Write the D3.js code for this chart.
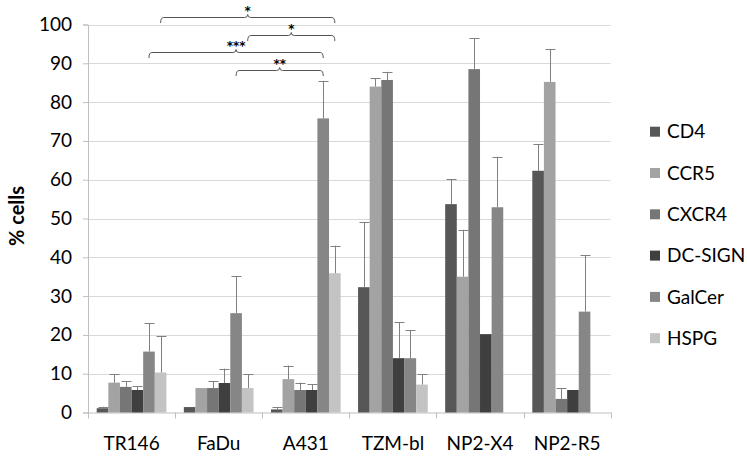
<!DOCTYPE html>
<html><head><meta charset="utf-8">
<script src="https://cdn.jsdelivr.net/npm/d3@7"></script>
<style>
html,body{margin:0;padding:0;background:#fff;}
svg{display:block;font-family:Lato,"Open Sans",sans-serif;}
</style></head>
<body><svg id="c" width="747" height="462"></svg>
<script>
const categories = ["TR146","FaDu","A431","TZM-bl","NP2-X4","NP2-R5"];
const seriesNames = ["CD4","CCR5","CXCR4","DC-SIGN","GalCer","HSPG"];
const seriesColors = ["#575757","#a3a3a3","#767676","#3f3f3f","#868686","#c3c3c3"];
// values (% cells) per category
const cd4    = [1.1, 1.4, 0.8, 32.3, 53.7, 62.3];
const ccr5   = [7.7, 6.3, 8.6, 84.0, 35.0, 85.2];
const cxcr4  = [6.6, 6.3, 5.8, 85.7, 88.5, 3.5];
const dcsign = [5.8, 7.6, 5.8, 14.0, 20.2, 5.8];
const galcer = [15.7, 25.6, 75.8, 14.0, 52.9, 26.0];
const hspg   = [10.3, 6.3, 35.9, 7.2, 0, 0];
// positive error bars (null = none drawn)
const cd4Err    = [0.4, null, 0.6, 16.7, 6.4, 6.9];
const ccr5Err   = [2.2, null, 3.5, 2.1, 12.1, 8.5];
const cxcr4Err  = [1.4, 1.7, 1.9, 2.1, 7.9, 2.7];
const dcsignErr = [0.95, 3.7, 1.5, 9.2, null, null];
const galcerErr = [7.3, 9.5, 9.7, 7.2, 13.0, 14.6];
const hspgErr   = [9.3, 3.5, 7.1, 2.6, null, null];
const yTicks = [0,10,20,30,40,50,60,70,80,90,100];
// significance comparisons: [category A, series, category B, series, label, bracket level (%)]
const comparisons = [
  ["TR146","HSPG","A431","HSPG","*",102],
  ["FaDu","HSPG","A431","HSPG","*",97.3],
  ["TR146","GalCer","A431","GalCer","***",92.8],
  ["FaDu","GalCer","A431","GalCer","**",88.3]
];

const values = [cd4, ccr5, cxcr4, dcsign, galcer, hspg];
const errors = [cd4Err, ccr5Err, cxcr4Err, dcsignErr, galcerErr, hspgErr];

const svg = d3.select("#c");
const pLeft = 88, pRight = 610.7, pTop = 24.5, pBottom = 412.5;

const x0 = d3.scaleBand().domain(categories).range([pLeft, pRight]).paddingInner(0.2).paddingOuter(0.1);
const x1 = d3.scaleBand().domain(seriesNames).range([0, x0.bandwidth()]);
const y = d3.scaleLinear().domain([0,100]).range([pBottom, pTop]);
const color = d3.scaleOrdinal().domain(seriesNames).range(seriesColors);

// gridlines
svg.append("g").selectAll("line").data(yTicks.filter(d=>d>0)).join("line")
  .attr("x1", pLeft).attr("x2", pRight)
  .attr("y1", d=>Math.round(y(d))+0.5).attr("y2", d=>Math.round(y(d))+0.5)
  .attr("stroke","#d9d9d9").attr("stroke-width",1);

// y axis
const yAxis = d3.axisLeft(y).tickValues(yTicks).tickSize(5).tickPadding(11);
const gy = svg.append("g").attr("transform",`translate(${pLeft},0)`).call(yAxis);
gy.select(".domain").attr("stroke","#bfbfbf");
gy.selectAll(".tick line").attr("stroke","#bfbfbf");
gy.selectAll(".tick text").attr("font-size",19).attr("fill","#000").attr("font-family","Lato");

// x axis
const xAxis = d3.axisBottom(x0).tickSize(0).tickPadding(24);
const gx = svg.append("g").attr("transform",`translate(0,${pBottom})`).call(xAxis);
gx.select(".domain").attr("stroke","#bfbfbf");
gx.selectAll(".tick text").attr("font-size",19).attr("fill","#000").attr("font-family","Lato");
// boundary ticks between categories
const bounds = categories.map(c => x0(c) - x0.step()*x0.paddingInner()/2).concat([pRight]);
bounds[0] = pLeft;
svg.append("g").selectAll("line").data(bounds).join("line")
  .attr("x1", d=>Math.round(d)+0.5).attr("x2", d=>Math.round(d)+0.5).attr("y1", pBottom).attr("y2", pBottom+6)
  .attr("stroke","#bfbfbf");

// bars
const groups = svg.append("g").selectAll("g").data(categories).join("g")
  .attr("transform", c => `translate(${x0(c)},0)`);
groups.selectAll("rect").data((c,ci) => seriesNames.map((s,si)=>({s, v: values[si][ci]})))
  .join("rect")
  .attr("x", d => x1(d.s)).attr("width", x1.bandwidth())
  .attr("y", d => y(d.v)).attr("height", d => y(0)-y(d.v))
  .attr("fill", d => color(d.s));

// error bars
const errData = [];
categories.forEach((c,ci)=> seriesNames.forEach((s,si)=>{
  const e = errors[si][ci];
  if (e != null) errData.push({c, s, v: values[si][ci], e});
}));
const eg = svg.append("g").attr("stroke","#808080").attr("stroke-width",1);
errData.forEach(d=>{
  const cx = Math.round(x0(d.c) + x1(d.s) + x1.bandwidth()/2) + 0.5;
  eg.append("line").attr("x1",cx).attr("x2",cx).attr("y1",y(d.v)).attr("y2",y(d.v+d.e));
  eg.append("line").attr("x1",cx-5).attr("x2",cx+5).attr("y1",Math.round(y(d.v+d.e))+0.5).attr("y2",Math.round(y(d.v+d.e))+0.5);
});

// significance brackets
const bg = svg.append("g");
comparisons.forEach(([ca,sa,cb,sb,label,lvl])=>{
  const xa = x0(ca) + x1(sa) + x1.bandwidth()/2;
  const xb = x0(cb) + x1(sb) + x1.bandwidth()/2;
  const yl = Math.round(y(lvl)) + 0.5;
  const xm = (xa + xb)/2;
  const r = 3, drop = 5.5;
  const p = `M${xa},${yl+drop} Q${xa},${yl} ${xa+r},${yl} L${xm-r},${yl} Q${xm},${yl} ${xm},${yl-r} Q${xm},${yl} ${xm+r},${yl} L${xb-r},${yl} Q${xb},${yl} ${xb},${yl+drop}`;
  bg.append("path").attr("d",p).attr("fill","none").attr("stroke","#555").attr("stroke-width",1);
  bg.append("text").attr("x",xm).attr("y",yl-3).attr("text-anchor","middle")
    .attr("font-size",12).attr("font-weight","bold").attr("font-family","DejaVu Sans").attr("fill","#000").text(label);
});

// y title
svg.append("text").attr("transform","translate(24,216) rotate(-90)")
  .attr("text-anchor","middle").attr("font-size",20).attr("font-weight","bold")
  .attr("font-family","Lato").text("% cells");

// legend
const lg = svg.append("g").selectAll("g").data(seriesNames).join("g")
  .attr("transform",(d,i)=>`translate(650,${131.7 + i*41.3})`);
lg.append("rect").attr("x",0).attr("y",-5).attr("width",10).attr("height",10).attr("fill",d=>color(d));
lg.append("text").attr("x",17).attr("y",0).attr("dy","0.35em").attr("font-size",19).attr("font-family","Lato").text(d=>d);
</script></body></html>
